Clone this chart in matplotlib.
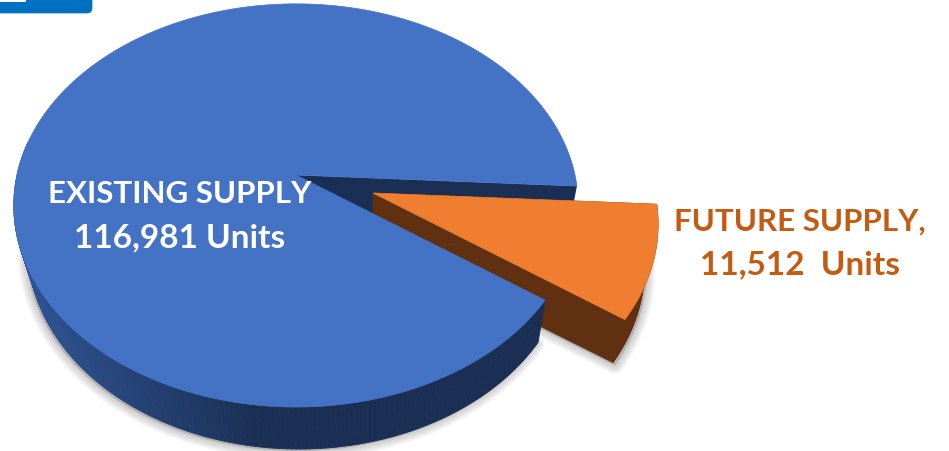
"""
Existing vs future supply, tilted 3D style pie drawn on a pixel sized axes
"""
import numpy as np
import matplotlib
matplotlib.use("Agg")
import matplotlib.pyplot as plt
from matplotlib.collections import PolyCollection
from matplotlib.colors import to_rgb
from matplotlib.patches import FancyBboxPatch

# data
slice_names = ["EXISTING SUPPLY", "FUTURE SUPPLY,"]
slice_units = [116981, 11512]
unit_suffix = ["Units", " Units"]

# styles
BLUE = "#4472C4"
BLUE_DARK = "#1B2F54"
BLUE_SIDE = "#2F5596"
ORANGE = "#F07E30"
BROWN = "#613011"
ORANGE_TEXT = "#C55A11"
TAB = "#0070C0"

# tilt of the pie
TILT = 0.151
SCALE_X = 279
SCALE_Y = 197
START = 3.2
DEPTH = 42


def project(angles, radius=1.0):
    """Unit circle angles (degrees, clockwise on screen) to offsets from the centre"""
    rad = np.radians(angles)
    x = radius * np.cos(rad)
    y = radius * np.sin(rad)
    return SCALE_X * x / (1 - TILT * y), SCALE_Y * y / (1 - TILT * y)


def soft_shadow(ax, xs, ys, dx, dy):
    for width in [12, 9, 6, 3]:
        ax.fill(xs + dx, ys + dy, color="#555555", alpha=0.07, lw=width,
                joinstyle="round", zorder=1)


future_sweep = 360 * slice_units[1] / sum(slice_units)
future_end = START + future_sweep

fig = plt.figure(figsize=(9.49, 4.52), dpi=100)
ax = fig.add_axes([0, 0, 1, 1])
ax.set_xlim(0, 949)
ax.set_ylim(452, 0)
ax.axis("off")

# existing slice
cx, cy = 296, 176
theta = np.linspace(future_end, 360 + START, 400)
ox, oy = project(theta)
top_x = np.concatenate([[cx], cx + ox])
top_y = np.concatenate([[cy], cy + oy])
low_x = cx + 3 + ox * 0.96
low_y = cy + oy + DEPTH

# only the near side of the rim shows
near = theta < 190

# shadow under the rim
soft_shadow(ax, low_x[near], low_y[near], -2, 2)

# inner cut face seen through the gap
up_x, up_y = project(np.array([START]))
ax.fill([cx, cx + up_x[0], cx + 3 + up_x[0] * 0.96, cx + 3],
        [cy, cy + up_y[0], cy + up_y[0] + DEPTH, cy + DEPTH],
        color=BLUE_DARK, lw=0, zorder=2)

# future slice, pulled out
fx, fy = 373, 194
theta_f = np.linspace(START, future_end, 80)
gx, gy = project(theta_f, 1.01)
f_top_x = np.concatenate([[fx], fx + gx])
f_top_y = np.concatenate([[fy], fy + gy])
f_low_x = np.concatenate([[fx], fx + gx * 0.953])
f_low_y = np.concatenate([[fy + 50], fy + gy + 43])

soft_shadow(ax, f_low_x, f_low_y, 2, 3)
ax.fill(np.concatenate([f_top_x, f_low_x[::-1]]),
        np.concatenate([f_top_y, f_low_y[::-1]]),
        color=BROWN, lw=0.5, zorder=3)
ax.fill(f_low_x, f_low_y, color=BROWN, lw=0.5, zorder=3)
ax.fill(f_top_x, f_top_y, color=ORANGE, lw=0.5, zorder=4)

# rim of the existing slice, lighter towards the left
quads = []
colors = []
light, dark = np.array(to_rgb(BLUE_SIDE)), np.array(to_rgb(BLUE_DARK))
for i in np.flatnonzero(near)[:-1]:
    quads.append([(cx + ox[i], cy + oy[i]), (cx + ox[i + 1], cy + oy[i + 1]),
                  (low_x[i + 1], low_y[i + 1]), (low_x[i], low_y[i])])
    mix = np.interp(cx + ox[i], [15, 260], [0, 1])
    colors.append(light + (dark - light) * mix)
ax.add_collection(PolyCollection(quads, facecolors=colors, edgecolors=colors,
                                 linewidths=0.6, zorder=5))
ax.fill(top_x, top_y, color=BLUE, lw=0.5, zorder=6)

# corner tab from the slide header
ax.add_patch(FancyBboxPatch((-30, -20), 122, 34, boxstyle="round,pad=0,rounding_size=5",
                            fc=TAB, ec=TAB, lw=0.5, zorder=7))
ax.fill([0, 26, 26, 0], [0, 0, 3, 3], color="white", lw=0, zorder=8)

# labels
font = dict(family=["Lato", "DejaVu Sans"], fontweight="bold",
            ha="center", va="center", zorder=9)
ax.text(180, 194, slice_names[0], color="white", fontsize=22.5, **font)
ax.text(180, 238, f"{slice_units[0]:,} {unit_suffix[0]}", color="white", fontsize=24, **font)
ax.text(800, 222, slice_names[1], color=ORANGE_TEXT, fontsize=22.5, **font)
ax.text(800, 265, f"{slice_units[1]:,} {unit_suffix[1]}", color=ORANGE_TEXT, fontsize=24, **font)

fig.savefig("out.png", dpi=100)
